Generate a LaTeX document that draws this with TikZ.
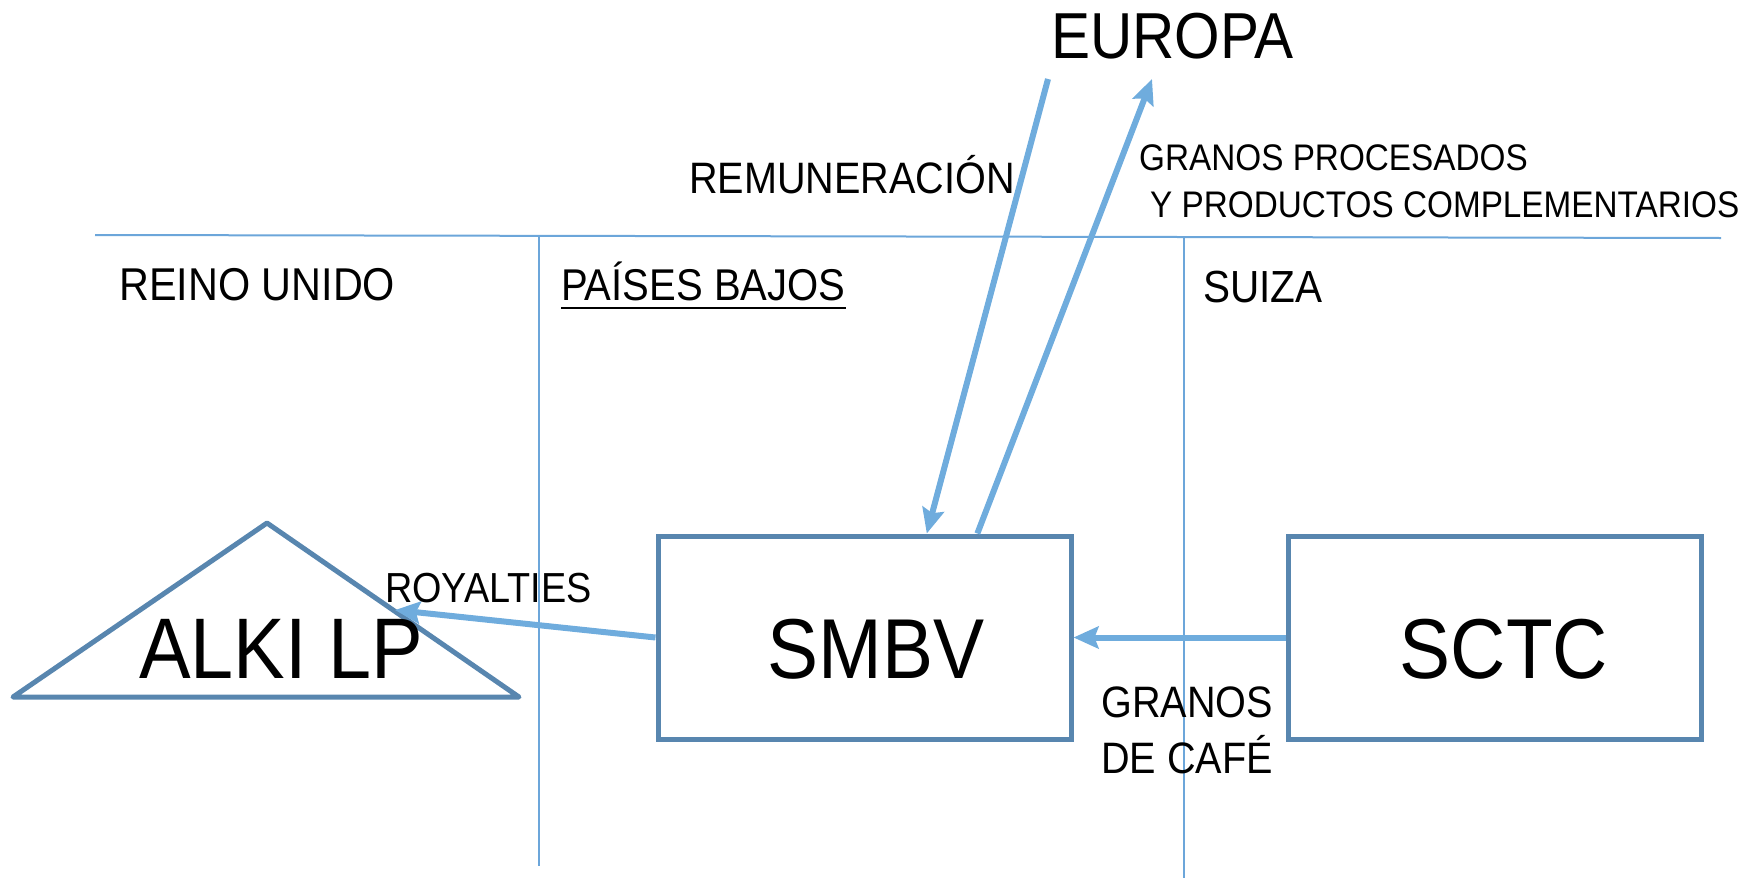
\documentclass[tikz,border=0pt]{standalone}
\usepackage{fontspec}
\setmainfont{Liberation Sans}[FakeStretch=0.9]
\usetikzlibrary{calc,arrows.meta}
\definecolor{boxblue}{RGB}{88,134,175}
\definecolor{flowblue}{RGB}{111,172,221}
\definecolor{gridblue}{RGB}{108,166,218}
\newcommand{\fsz}[1]{\fontsize{#1}{#1}\selectfont}
\tikzset{
	bigbox/.style={draw=boxblue, line width=5pt, minimum width=413pt, minimum height=203pt, inner sep=0pt},
	flow/.style={draw=flowblue, line width=6pt, -{Stealth[length=25pt,width=22pt,inset=4pt]}},
	border/.style={draw=gridblue, line width=2pt},
	lbl/.style={inner sep=0pt, anchor=base west},
}

\begin{document}
\begin{tikzpicture}[x=1pt, y=-1pt]
			%%%%% START %%%%%
			\useasboundingbox (0, 0) rectangle (1760, 878);
			
			% country borders
			\draw[border] (95, 235) -- (1721, 238);
			\draw[border] (539, 237) -- (539, 866);
			\draw[border] (1184, 238) -- (1184, 878);
			
			\node[lbl] (reino) at (119, 300) {\fsz{46}REINO UNIDO};
			\node[lbl] (paises) at (561, 300) {\fsz{44.5}PAÍSES BAJOS};
			\draw[line width=2.8pt] ($(paises.base west)+(0, 8)$) -- ($(paises.base east)+(0, 8)$);
			\node[lbl] (suiza) at (1203, 302) {\fsz{45}SUIZA};
			
			\node[lbl] (europa) at (1051, 58) {\fsz{65}EUROPA};
			\coordinate (eurOut) at (1048, 79);
			\coordinate (eurIn) at (1152, 79);
			
			% companies
			\node[bigbox] (smbv) at (864.5, 637.5) {};
			\node[inner sep=0pt, anchor=base] (smbvtxt) at (876, 678) {\fsz{85}SMBV};
			\node[bigbox] (sctc) at (1494.5, 637.5) {};
			\node[inner sep=0pt, anchor=base] (sctctxt) at (1504, 678) {\fsz{85}SCTC};
			
			\coordinate (alkiTop) at (267, 523);
			\coordinate (alkiR) at (519, 697);
			\coordinate (alkiL) at (13, 697);
			\draw[draw=boxblue, line width=5pt, line join=round] (alkiTop) -- (alkiR) -- (alkiL) -- cycle;
			\node[inner sep=0pt, anchor=base] (alkitxt) at (281, 678) {\fsz{86}ALKI LP};
			\coordinate (alkiIn) at (395, 610);
			
			% flows
			\draw[flow] (eurOut) -- ($(smbv.north west)!0.649!(smbv.north east)$);
			\draw[flow] ($(smbv.north west)!0.77!(smbv.north east)$) -- (eurIn);
			\draw[flow] (smbv.west) -- (alkiIn);
			\draw[flow] (sctc.west) -- (smbv.east);
			
			\node[lbl] (remun) at (689, 193) {\fsz{44}REMUNERACIÓN};
			\node[lbl] (procA) at (1139, 170) {\fsz{37}GRANOS PROCESADOS};
			\node[lbl] (procB) at (1150, 217) {\fsz{37}Y PRODUCTOS COMPLEMENTARIOS};
			\node[lbl] (royal) at (385, 602) {\fsz{42}ROYALTIES};
			\node[lbl] (cafeA) at (1101, 717) {\fsz{44}GRANOS};
			\node[lbl] (cafeB) at (1101, 773) {\fsz{44}DE CAFÉ};
			
			%%%%% END %%%%%
\end{tikzpicture}
\end{document}
